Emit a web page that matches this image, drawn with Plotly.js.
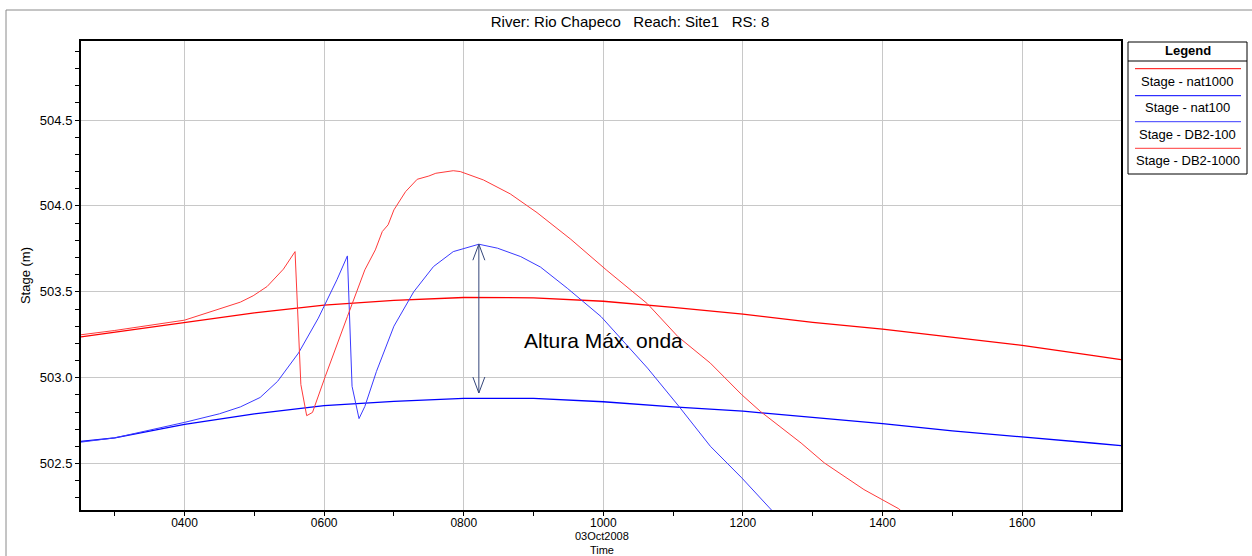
<!DOCTYPE html>
<html>
<head>
<meta charset="utf-8">
<script src="https://cdn.plot.ly/plotly-3.0.1.min.js"></script>
<style>html,body{margin:0;padding:0;background:#fff;}#chart{width:1252px;height:556px;}</style>
</head>
<body>
<div id="chart"></div>
<script>
// ---- data ----
const DAY = '2008-10-03 ';
const seriesNames = ['Stage - nat1000', 'Stage - nat100', 'Stage - DB2-100', 'Stage - DB2-1000'];
const seriesColors = ['#ff0000', '#0000ff', '#3a3aff', '#ff3a3a'];

const nat1000Time  = ['02:31','03:00','04:00','05:00','06:00','07:00','08:00','09:00','10:00','11:00','12:00','13:00','14:00','15:00','16:00','17:00','17:25'];
const nat1000Stage = [503.238,503.265,503.325,503.378,503.423,503.450,503.467,503.465,503.445,503.410,503.370,503.322,503.283,503.235,503.188,503.130,503.105];

const nat100Time  = ['02:31','03:00','04:00','05:00','06:00','07:00','08:00','09:00','10:00','11:00','12:00','13:00','14:00','15:00','16:00','17:00','17:25'];
const nat100Stage = [502.630,502.650,502.728,502.790,502.838,502.862,502.880,502.880,502.860,502.830,502.805,502.770,502.733,502.690,502.653,502.620,502.605];

const db2_100Time  = ['02:31','03:00','04:00','04:30','04:48','05:05','05:20','05:38','05:55','06:01','06:11','06:20','06:24','06:30','06:35','06:45','07:00','07:17','07:34','07:51','08:13','08:29','08:49','09:06','09:29','09:58','10:38','11:05','11:32','11:59','12:24','12:30'];
const db2_100Stage = [502.625,502.650,502.740,502.790,502.830,502.885,502.979,503.144,503.347,503.430,503.570,503.709,502.950,502.762,502.833,503.037,503.300,503.500,503.647,503.734,503.777,503.754,503.705,503.644,503.521,503.356,503.056,502.833,502.601,502.417,502.233,502.190];

const db2_1000Time  = ['02:31','03:00','04:00','04:25','04:48','04:59','05:11','05:25','05:35','05:40','05:45','05:50','06:01','06:20','06:35','06:44','06:50','06:55','07:00','07:10','07:20','07:30','07:36','07:51','07:57','08:17','08:40','09:03','09:32','10:03','10:38','11:04','11:32','11:59','12:15','12:50','13:10','13:44','14:14','14:20'];
const db2_1000Stage = [503.250,503.275,503.335,503.390,503.440,503.477,503.531,503.632,503.734,502.960,502.779,502.798,503.008,503.356,503.628,503.744,503.851,503.890,503.977,504.083,504.155,504.174,504.190,504.205,504.200,504.151,504.070,503.961,503.806,503.625,503.430,503.240,503.085,502.901,502.804,502.620,502.504,502.349,502.237,502.200];

const arrowTime = '08:13';
const arrowTop = 503.777;
const arrowBottom = 502.911;
const annotationText = 'Altura Máx. onda';
const annotationTime = '10:00';
const annotationStage = 503.215;

const titleText = 'River: Rio Chapeco&nbsp;&nbsp;&nbsp;Reach: Site1&nbsp;&nbsp;&nbsp;RS: 8';
const xTitle = '03Oct2008<br>Time';
const yTitle = 'Stage (m)';

// ---- build ----
const T = hm => DAY + hm;
const allTimes = [nat1000Time, nat100Time, db2_100Time, db2_1000Time];
const allStages = [nat1000Stage, nat100Stage, db2_100Stage, db2_1000Stage];
const widths = [1.3, 1.3, 1, 1];

const traces = seriesNames.map((name, i) => ({
  type: 'scatter', mode: 'lines', name: name,
  x: allTimes[i].map(T), y: allStages[i],
  line: {color: seriesColors[i], width: widths[i]},
  showlegend: false, hoverinfo: 'skip'
}));

// pixel helpers for paper placement (plot area 81..1121 x 41..510)
const L = 81, R = 131, TOP = 41, B = 46, W = 1252, H = 556;
const PW = W - L - R, PH = H - TOP - B;
const px = x => (x - L) / PW;
const py = y => (H - B - y) / PH;

const shapes = [];
const annotations = [];

// outer gray frame
shapes.push({type: 'rect', xref: 'paper', yref: 'paper', x0: px(6), x1: px(1262), y0: py(580), y1: py(10),
  line: {color: '#8a8a8a', width: 1}, fillcolor: 'rgba(0,0,0,0)', layer: 'below'});

// arrow (double headed)
const arrowColor = '#34467a';
shapes.push({type: 'line', xref: 'x', yref: 'y', x0: T(arrowTime), x1: T(arrowTime), y0: arrowBottom, y1: arrowTop,
  line: {color: arrowColor, width: 1}});
shapes.push({type: 'path', xref: 'x', yref: 'y', xsizemode: 'pixel', ysizemode: 'pixel',
  xanchor: T(arrowTime), yanchor: arrowTop, path: 'M-6,-16L0,0L6,-16', line: {color: arrowColor, width: 1}});
shapes.push({type: 'path', xref: 'x', yref: 'y', xsizemode: 'pixel', ysizemode: 'pixel',
  xanchor: T(arrowTime), yanchor: arrowBottom, path: 'M-6,16L0,0L6,16', line: {color: arrowColor, width: 1}});

annotations.push({xref: 'x', yref: 'y', x: T(annotationTime), y: annotationStage, text: annotationText,
  showarrow: false, xanchor: 'center', yanchor: 'middle', font: {size: 21, color: '#000'}});

// x axis title (date + "Time") as one two-line text
annotations.push({xref: 'paper', yref: 'paper', x: px(602), y: py(542.5), text: xTitle, showarrow: false,
  xanchor: 'center', yanchor: 'middle', borderpad: 0, font: {size: 11, color: '#000'}});

// custom legend box
shapes.push({type: 'rect', xref: 'paper', yref: 'paper', x0: px(1128), x1: px(1247), y0: py(174), y1: py(42),
  line: {color: '#000', width: 1}, fillcolor: '#fff'});
shapes.push({type: 'line', xref: 'paper', yref: 'paper', x0: px(1128), x1: px(1247), y0: py(61), y1: py(61),
  line: {color: '#000', width: 1}});
annotations.push({xref: 'paper', yref: 'paper', x: px(1187.5), y: py(51), text: '<b>Legend</b>', showarrow: false,
  xanchor: 'center', yanchor: 'middle', font: {size: 13, color: '#000'}});
const legLineY = [68.7, 95.7, 121.7, 148.3];
const legTextY = [81.7, 107, 134, 160.7];
seriesNames.forEach((name, i) => {
  shapes.push({type: 'line', xref: 'paper', yref: 'paper', x0: px(1135), x1: px(1241), y0: py(legLineY[i]), y1: py(legLineY[i]),
    line: {color: seriesColors[i], width: 1}});
  annotations.push({xref: 'paper', yref: 'paper', x: px(1187.5), y: py(legTextY[i]), text: name, showarrow: false,
    xanchor: 'center', yanchor: 'middle', font: {size: 13, color: '#000'}});
});

const layout = {
  width: W, height: H,
  margin: {l: L, r: R, t: TOP, b: B, pad: 0},
  paper_bgcolor: '#fff', plot_bgcolor: '#fff',
  font: {family: 'Liberation Sans, Arial, sans-serif', size: 13, color: '#000'},
  title: {text: titleText, x: 630 / W, xref: 'container', xanchor: 'center',
          y: 1 - 22 / H, yref: 'container', yanchor: 'middle', font: {size: 15, color: '#000'}},
  showlegend: false,
  xaxis: {
    type: 'date', range: [T('02:31'), T('17:25')],
    tick0: T('00:00'), dtick: 7200000, tickformat: '%H%M',
    ticks: 'outside', ticklen: 4, tickcolor: '#000', tickwidth: 1, ticklabelstandoff: -3,
    minor: {dtick: 3600000, ticks: 'outside', ticklen: 4, tickcolor: '#000', showgrid: false},
    showgrid: true, gridcolor: '#c8c8c8', gridwidth: 1,
    showline: true, linecolor: '#000', linewidth: 2, mirror: true,
    zeroline: false, automargin: false,
    tickfont: {size: 12, color: '#000'}
  },
  yaxis: {
    range: [502.23, 504.96], tick0: 502.5, dtick: 0.5, tickformat: '.1f',
    ticks: 'outside', ticklen: 4, tickcolor: '#000', tickwidth: 1,
    minor: {dtick: 0.1, ticks: 'outside', ticklen: 4, tickcolor: '#000', showgrid: false},
    showgrid: true, gridcolor: '#c8c8c8', gridwidth: 1,
    showline: true, linecolor: '#000', linewidth: 2, mirror: true,
    zeroline: false, automargin: false,
    tickfont: {size: 13, color: '#000'},
    title: {text: yTitle, standoff: 6, font: {size: 13, color: '#000'}}
  },
  shapes: shapes,
  annotations: annotations
};

Plotly.newPlot('chart', traces, layout, {staticPlot: true, displayModeBar: false});
</script>
</body>
</html>
